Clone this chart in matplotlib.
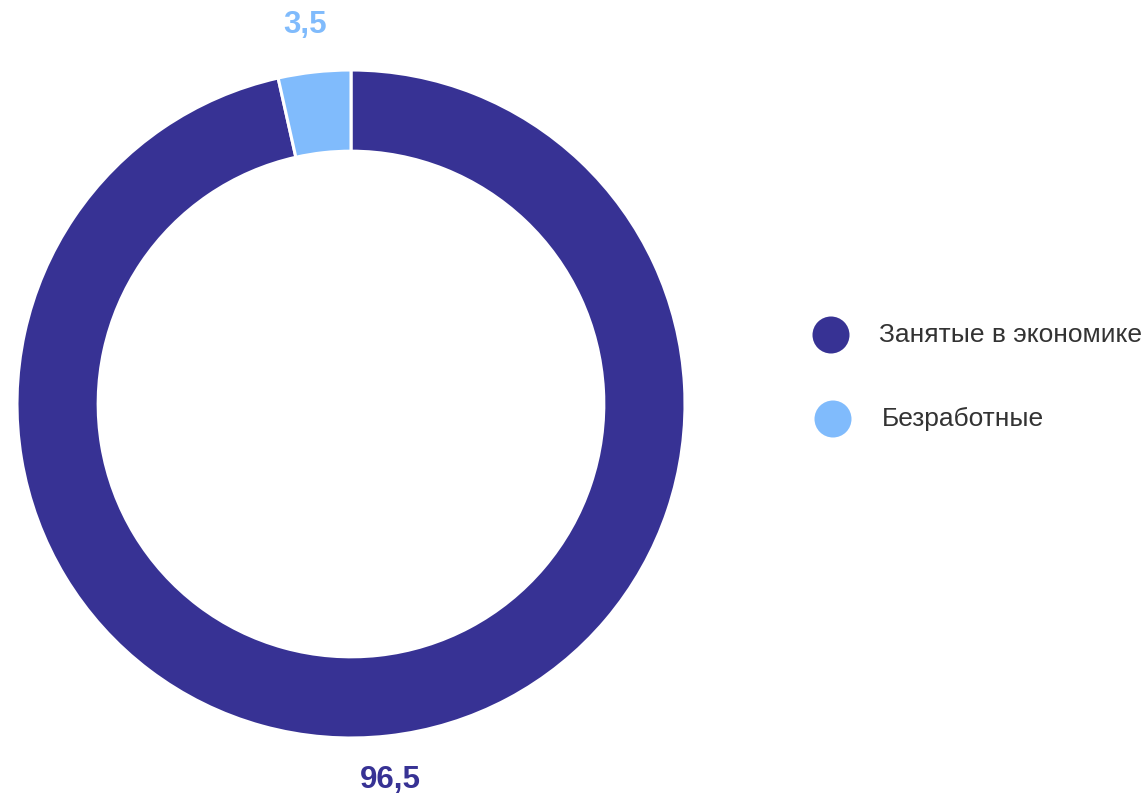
import matplotlib.pyplot as plt
from matplotlib.patches import Circle

labels = ['Занятые в экономике', 'Безработные']
values = [96.5, 3.5]
value_labels = ['96,5', '3,5']
colors = ['#373294', '#80bbfc']

plt.rcParams['font.family'] = ['Liberation Sans', 'DejaVu Sans']

W, H = 1145, 797
fig = plt.figure(figsize=(W / 100, H / 100), dpi=100)
ax = fig.add_axes([0, 0, 1, 1])

cx, cy, r = 351, H - 404, 334
ax.pie(values, colors=colors, startangle=90, counterclock=False,
       center=(cx, cy), radius=r, frame=True,
       wedgeprops=dict(width=r * 0.243, edgecolor='white', linewidth=2.2))
ax.set_xlim(0, W)
ax.set_ylim(0, H)
ax.set_aspect('equal')
ax.axis('off')

# value labels
ax.text(305, H - 25, value_labels[1], color=colors[1], fontsize=22.5,
        fontweight='bold', ha='center', va='center')
ax.text(390, H - 780, value_labels[0], color=colors[0], fontsize=22.5,
        fontweight='bold', ha='center', va='center')

# legend
for (mx, my, tx), lab, c in zip([(831, 335, 879), (833, 419, 882)], labels, colors):
    ax.add_patch(Circle((mx, H - my), 18.5, color=c, lw=0))
    ax.text(tx, H - my, lab, color='#333333', fontsize=19, ha='left', va='center')

fig.savefig('out.png', dpi=100)
